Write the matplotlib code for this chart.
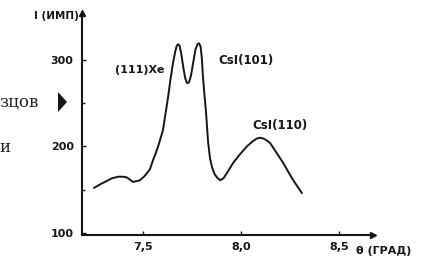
import matplotlib.pyplot as plt
from matplotlib.patches import Polygon

# diffraction scan, intensity (counts) vs angle theta (deg)
theta = [7.25, 7.28, 7.306, 7.34, 7.373, 7.40, 7.419, 7.449, 7.47, 7.485,
         7.505, 7.52, 7.536, 7.551, 7.565, 7.58, 7.602, 7.615, 7.628, 7.64,
         7.653, 7.665, 7.672, 7.679, 7.687, 7.695, 7.705, 7.715, 7.725,
         7.735, 7.745, 7.757, 7.768, 7.778, 7.786, 7.794, 7.80, 7.806,
         7.814, 7.822, 7.832, 7.842, 7.852, 7.865, 7.878, 7.893, 7.91,
         7.93, 7.96, 7.995, 8.03, 8.06, 8.08, 8.097, 8.115, 8.13, 8.148,
         8.18, 8.215, 8.24, 8.266, 8.29, 8.311]
counts = [152, 156, 159, 163, 165, 165, 164, 159, 160, 161,
          165, 169, 174, 184, 192, 202, 219, 238, 257, 277,
          296, 310, 316, 318, 316, 307, 292, 279, 273,
          274, 282, 298, 312, 318, 319, 315, 302, 280,
          258, 238, 205, 186, 176, 168, 164, 161, 163,
          170, 181, 191, 200, 206, 209, 210, 209, 207, 204,
          193, 181, 171, 161, 153, 146]

x_ticks = [7.5, 8.0, 8.5]
x_labels = ["7,5", "8,0", "8,5"]
y_ticks = [100, 200, 300]
y_minor = [150, 250]

INK = "#161616"
BOLD = dict(fontweight="bold", color=INK, family="DejaVu Sans")

fig = plt.figure(figsize=(4.32, 2.6), dpi=100, facecolor="white")
ax = fig.add_axes([82 / 432, 25 / 260, 291 / 432, 222 / 260])
ax.set_xlim(7.189, 8.673)
ax.set_ylim(97.7, 354)
ax.set_facecolor("none")

ax.plot(theta, counts, color=INK, lw=1.4, solid_capstyle="round",
        solid_joinstyle="round")

for s in ("top", "right"):
    ax.spines[s].set_visible(False)
for s in ("left", "bottom"):
    ax.spines[s].set_linewidth(1.5)
    ax.spines[s].set_color(INK)

# arrow heads on the axes
ax.plot(1, 0, ">", transform=ax.transAxes, color=INK, ms=5, clip_on=False)
ax.plot(0, 1, "^", transform=ax.transAxes, color=INK, ms=5, clip_on=False)

ax.set_xticks(x_ticks)
ax.set_xticklabels(x_labels)
ax.set_yticks(y_ticks)
ax.set_yticks(y_minor, minor=True)
ax.tick_params(direction="in", length=3, width=1, colors=INK, pad=5,
               labelsize=8)
ax.tick_params(axis="y", pad=6)
ax.tick_params(which="minor", direction="in", length=2, width=1, colors=INK)
for lab in ax.get_xticklabels() + ax.get_yticklabels():
    lab.set_fontweight("bold")

ax.text(7.175, 350, "I (ИМП)", fontsize=7.5, ha="right", va="center", **BOLD)
ax.text(8.585, -0.05, "θ (ГРАД)", fontsize=8, ha="left", va="top", **BOLD,
        transform=ax.get_xaxis_transform())

ax.text(7.485, 288, "(111)Xe", fontsize=8, ha="center", va="center", **BOLD)
ax.text(8.025, 299, "CsI(101)", fontsize=8.5, ha="center", va="center", **BOLD)
ax.text(8.20, 224, "CsI(110)", fontsize=8.5, ha="center", va="center", **BOLD)

# fragments of the neighbouring page text
fig.text(-1 / 432, 1 - 102 / 260, "зцов", fontsize=12, color="#222222",
         family="DejaVu Serif", va="center")
fig.text(-1 / 432, 1 - 147 / 260, "и", fontsize=12, color="#222222",
         family="DejaVu Serif", va="center")
tri = Polygon([(58 / 432, 1 - 92 / 260), (58 / 432, 1 - 112 / 260),
               (67 / 432, 1 - 102 / 260)], closed=True,
              facecolor=INK, edgecolor="none", transform=fig.transFigure)
fig.patches.append(tri)

fig.savefig("out.png", dpi=100, facecolor="white")
